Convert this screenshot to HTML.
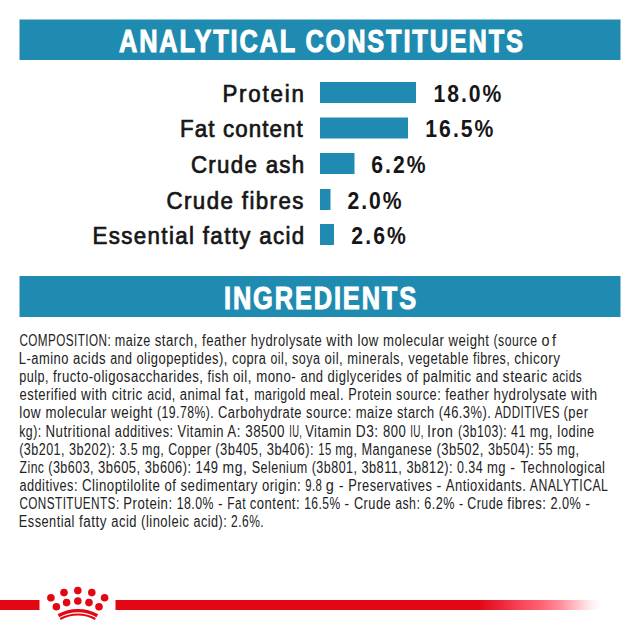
<!DOCTYPE html>
<html><head><meta charset="utf-8">
<style>
html,body{margin:0;padding:0;background:#fff;width:640px;height:640px;overflow:hidden}
svg{display:block}
text{font-family:"Liberation Sans",sans-serif}
.hd{font-weight:bold;fill:#fff;font-size:31px;stroke:#fff;stroke-width:1.0px}
.lb{fill:#161616;font-size:23.5px;stroke:#161616;stroke-width:0.7px}
.pc{fill:#161616;font-size:24.6px;font-weight:bold;stroke:#161616;stroke-width:0.0px}
.bd{fill:#222222;font-size:16px;stroke:#222222;stroke-width:0.0px;letter-spacing:0.6px}
</style></head>
<body>
<svg width="640" height="640" viewBox="0 0 640 640">
<rect x="19.5" y="19.5" width="601" height="40.5" fill="#1f8bb0"/>
<text class="hd" transform="translate(119.0 51.75) scale(0.82 1)" textLength="492.68" lengthAdjust="spacing">ANALYTICAL CONSTITUENTS</text>
<g fill="#1f8bb0">
<rect x="320" y="82" width="96" height="21"/>
<rect x="320" y="117.5" width="88" height="21"/>
<rect x="320" y="153" width="34.5" height="21"/>
<rect x="320" y="189" width="10.5" height="21"/>
<rect x="320" y="224" width="14" height="21"/>
</g>
<text class="lb" text-anchor="end" transform="translate(303.93 101.75) scale(0.95 1)" textLength="85.81" lengthAdjust="spacing">Protein</text>
<text class="lb" text-anchor="end" transform="translate(302.63 137.25) scale(0.95 1)" textLength="129.0" lengthAdjust="spacing">Fat content</text>
<text class="lb" text-anchor="end" transform="translate(304.18 172.75) scale(0.95 1)" textLength="119.2" lengthAdjust="spacing">Crude ash</text>
<text class="lb" text-anchor="end" transform="translate(303.41 208.75) scale(0.95 1)" textLength="144.14" lengthAdjust="spacing">Crude fibres</text>
<text class="lb" text-anchor="end" transform="translate(304.25 243.75) scale(0.95 1)" textLength="222.79" lengthAdjust="spacing">Essential fatty acid</text>
<text class="pc" transform="translate(433.6 101.75) scale(0.86 1)" textLength="78.87" lengthAdjust="spacing">18.0%</text>
<text class="pc" transform="translate(425.32 137.25) scale(0.86 1)" textLength="79.13" lengthAdjust="spacing">16.5%</text>
<text class="pc" transform="translate(371.19 172.75) scale(0.86 1)" textLength="63.16" lengthAdjust="spacing">6.2%</text>
<text class="pc" transform="translate(347.42 208.75) scale(0.86 1)" textLength="62.91" lengthAdjust="spacing">2.0%</text>
<text class="pc" transform="translate(351.31 243.75) scale(0.86 1)" textLength="63.4" lengthAdjust="spacing">2.6%</text>
<rect x="19.5" y="276" width="601" height="41" fill="#1f8bb0"/>
<text class="hd" transform="translate(224.0 308.6) scale(0.82 1)" textLength="234.39" lengthAdjust="spacing">INGREDIENTS</text>
<text class="bd" x="19.38" y="345.8" textLength="91.73" lengthAdjust="spacingAndGlyphs">COMPOSITION:</text>
<text class="bd" x="114.8" y="345.8" textLength="35.94" lengthAdjust="spacingAndGlyphs">maize</text>
<text class="bd" x="154.7" y="345.8" textLength="43.14" lengthAdjust="spacingAndGlyphs">starch,</text>
<text class="bd" x="202.0" y="345.8" textLength="44.65" lengthAdjust="spacingAndGlyphs">feather</text>
<text class="bd" x="250.8" y="345.8" textLength="71.44" lengthAdjust="spacingAndGlyphs">hydrolysate</text>
<text class="bd" x="326.3" y="345.8" textLength="26.91" lengthAdjust="spacingAndGlyphs">with</text>
<text class="bd" x="357.6" y="345.8" textLength="21.21" lengthAdjust="spacingAndGlyphs">low</text>
<text class="bd" x="382.95" y="345.8" textLength="61.51" lengthAdjust="spacingAndGlyphs">molecular</text>
<text class="bd" x="448.6" y="345.8" textLength="40.88" lengthAdjust="spacingAndGlyphs">weight</text>
<text class="bd" x="493.6" y="345.8" textLength="43.96" lengthAdjust="spacingAndGlyphs">(source</text>
<text class="bd" transform="translate(541.4 345.8) scale(0.8987 1)" textLength="16.99" lengthAdjust="spacing">of</text>
<text class="bd" x="18.86" y="363.94" textLength="50.1" lengthAdjust="spacingAndGlyphs">L-amino</text>
<text class="bd" x="73.0" y="363.94" textLength="33.08" lengthAdjust="spacingAndGlyphs">acids</text>
<text class="bd" x="110.2" y="363.94" textLength="22.27" lengthAdjust="spacingAndGlyphs">and</text>
<text class="bd" x="136.4" y="363.94" textLength="91.53" lengthAdjust="spacingAndGlyphs">oligopeptides),</text>
<text class="bd" x="232.0" y="363.94" textLength="34.44" lengthAdjust="spacingAndGlyphs">copra</text>
<text class="bd" x="270.45" y="363.94" textLength="17.66" lengthAdjust="spacingAndGlyphs">oil,</text>
<text class="bd" x="292.0" y="363.94" textLength="28.5" lengthAdjust="spacingAndGlyphs">soya</text>
<text class="bd" x="324.45" y="363.94" textLength="18.73" lengthAdjust="spacingAndGlyphs">oil,</text>
<text class="bd" x="347.3" y="363.94" textLength="56.85" lengthAdjust="spacingAndGlyphs">minerals,</text>
<text class="bd" x="408.2" y="363.94" textLength="60.67" lengthAdjust="spacingAndGlyphs">vegetable</text>
<text class="bd" x="472.95" y="363.94" textLength="37.32" lengthAdjust="spacingAndGlyphs">fibres,</text>
<text class="bd" x="514.2" y="363.94" textLength="46.28" lengthAdjust="spacingAndGlyphs">chicory</text>
<text class="bd" x="19.24" y="382.08" textLength="29.74" lengthAdjust="spacingAndGlyphs">pulp,</text>
<text class="bd" x="52.95" y="382.08" textLength="150.52" lengthAdjust="spacingAndGlyphs">fructo-oligosaccharides,</text>
<text class="bd" x="207.6" y="382.08" textLength="21.41" lengthAdjust="spacingAndGlyphs">fish</text>
<text class="bd" x="232.95" y="382.08" textLength="19.06" lengthAdjust="spacingAndGlyphs">oil,</text>
<text class="bd" x="256.2" y="382.08" textLength="40.08" lengthAdjust="spacingAndGlyphs">mono-</text>
<text class="bd" x="300.45" y="382.08" textLength="23.08" lengthAdjust="spacingAndGlyphs">and</text>
<text class="bd" x="327.6" y="382.08" textLength="74.7" lengthAdjust="spacingAndGlyphs">diglycerides</text>
<text class="bd" x="406.4" y="382.08" textLength="12.11" lengthAdjust="spacingAndGlyphs">of</text>
<text class="bd" x="422.7" y="382.08" textLength="48.93" lengthAdjust="spacingAndGlyphs">palmitic</text>
<text class="bd" x="475.8" y="382.08" textLength="22.78" lengthAdjust="spacingAndGlyphs">and</text>
<text class="bd" x="502.6" y="382.08" textLength="45.17" lengthAdjust="spacingAndGlyphs">stearic</text>
<text class="bd" x="552.2" y="382.08" textLength="29.93" lengthAdjust="spacingAndGlyphs">acids</text>
<text class="bd" x="19.46" y="400.22" textLength="57.53" lengthAdjust="spacingAndGlyphs">esterified</text>
<text class="bd" x="81.1" y="400.22" textLength="26.31" lengthAdjust="spacingAndGlyphs">with</text>
<text class="bd" x="111.7" y="400.22" textLength="31.2" lengthAdjust="spacingAndGlyphs">citric</text>
<text class="bd" x="147.2" y="400.22" textLength="28.59" lengthAdjust="spacingAndGlyphs">acid,</text>
<text class="bd" x="179.7" y="400.22" textLength="41.39" lengthAdjust="spacingAndGlyphs">animal</text>
<text class="bd" transform="translate(225.2 400.22) scale(0.9182 1)" textLength="26.24" lengthAdjust="spacing">fat,</text>
<text class="bd" x="254.2" y="400.22" textLength="51.67" lengthAdjust="spacingAndGlyphs">marigold</text>
<text class="bd" x="309.8" y="400.22" textLength="34.3" lengthAdjust="spacingAndGlyphs">meal.</text>
<text class="bd" x="348.2" y="400.22" textLength="43.88" lengthAdjust="spacingAndGlyphs">Protein</text>
<text class="bd" x="396.1" y="400.22" textLength="45.1" lengthAdjust="spacingAndGlyphs">source:</text>
<text class="bd" x="445.2" y="400.22" textLength="44.29" lengthAdjust="spacingAndGlyphs">feather</text>
<text class="bd" x="493.6" y="400.22" textLength="73.33" lengthAdjust="spacingAndGlyphs">hydrolysate</text>
<text class="bd" x="571.1" y="400.22" textLength="26.46" lengthAdjust="spacingAndGlyphs">with</text>
<text class="bd" x="19.18" y="418.36" textLength="21.99" lengthAdjust="spacingAndGlyphs">low</text>
<text class="bd" x="45.45" y="418.36" textLength="61.51" lengthAdjust="spacingAndGlyphs">molecular</text>
<text class="bd" x="111.1" y="418.36" textLength="41.69" lengthAdjust="spacingAndGlyphs">weight</text>
<text class="bd" x="157.0" y="418.36" textLength="57.11" lengthAdjust="spacingAndGlyphs">(19.78%).</text>
<text class="bd" x="217.95" y="418.36" textLength="84.09" lengthAdjust="spacingAndGlyphs">Carbohydrate</text>
<text class="bd" x="306.1" y="418.36" textLength="45.65" lengthAdjust="spacingAndGlyphs">source:</text>
<text class="bd" x="355.8" y="418.36" textLength="37.11" lengthAdjust="spacingAndGlyphs">maize</text>
<text class="bd" x="397.0" y="418.36" textLength="37.68" lengthAdjust="spacingAndGlyphs">starch</text>
<text class="bd" x="438.7" y="418.36" textLength="52.65" lengthAdjust="spacingAndGlyphs">(46.3%).</text>
<text class="bd" x="494.7" y="418.36" textLength="65.25" lengthAdjust="spacingAndGlyphs">ADDITIVES</text>
<text class="bd" x="563.6" y="418.36" textLength="24.86" lengthAdjust="spacingAndGlyphs">(per</text>
<text class="bd" x="19.24" y="436.5" textLength="22.34" lengthAdjust="spacingAndGlyphs">kg):</text>
<text class="bd" x="45.45" y="436.5" textLength="65.18" lengthAdjust="spacingAndGlyphs">Nutritional</text>
<text class="bd" x="114.8" y="436.5" textLength="58.78" lengthAdjust="spacingAndGlyphs">additives:</text>
<text class="bd" x="177.6" y="436.5" textLength="46.35" lengthAdjust="spacingAndGlyphs">Vitamin</text>
<text class="bd" x="227.3" y="436.5" textLength="13.69" lengthAdjust="spacingAndGlyphs">A:</text>
<text class="bd" x="245.2" y="436.5" textLength="39.79" lengthAdjust="spacingAndGlyphs">38500</text>
<text class="bd" x="289.2" y="436.5" textLength="13.05" lengthAdjust="spacingAndGlyphs">IU,</text>
<text class="bd" x="305.2" y="436.5" textLength="46.51" lengthAdjust="spacingAndGlyphs">Vitamin</text>
<text class="bd" x="355.8" y="436.5" textLength="22.85" lengthAdjust="spacingAndGlyphs">D3:</text>
<text class="bd" x="382.95" y="436.5" textLength="23.17" lengthAdjust="spacingAndGlyphs">800</text>
<text class="bd" x="410.2" y="436.5" textLength="13.7" lengthAdjust="spacingAndGlyphs">IU,</text>
<text class="bd" x="427.0" y="436.5" textLength="26.5" lengthAdjust="spacingAndGlyphs">Iron</text>
<text class="bd" x="457.95" y="436.5" textLength="49.3" lengthAdjust="spacingAndGlyphs">(3b103):</text>
<text class="bd" x="511.1" y="436.5" textLength="14.79" lengthAdjust="spacingAndGlyphs">41</text>
<text class="bd" x="529.8" y="436.5" textLength="23.12" lengthAdjust="spacingAndGlyphs">mg,</text>
<text class="bd" x="557.0" y="436.5" textLength="37.62" lengthAdjust="spacingAndGlyphs">Iodine</text>
<text class="bd" x="19.24" y="454.64" textLength="45.72" lengthAdjust="spacingAndGlyphs">(3b201,</text>
<text class="bd" x="68.9" y="454.64" textLength="46.59" lengthAdjust="spacingAndGlyphs">3b202):</text>
<text class="bd" x="119.5" y="454.64" textLength="18.62" lengthAdjust="spacingAndGlyphs">3.5</text>
<text class="bd" x="142.0" y="454.64" textLength="22.27" lengthAdjust="spacingAndGlyphs">mg,</text>
<text class="bd" x="168.2" y="454.64" textLength="43.13" lengthAdjust="spacingAndGlyphs">Copper</text>
<text class="bd" x="215.2" y="454.64" textLength="47.42" lengthAdjust="spacingAndGlyphs">(3b405,</text>
<text class="bd" x="266.7" y="454.64" textLength="47.42" lengthAdjust="spacingAndGlyphs">3b406):</text>
<text class="bd" x="318.2" y="454.64" textLength="13.45" lengthAdjust="spacingAndGlyphs">15</text>
<text class="bd" x="335.2" y="454.64" textLength="22.27" lengthAdjust="spacingAndGlyphs">mg,</text>
<text class="bd" x="361.4" y="454.64" textLength="70.99" lengthAdjust="spacingAndGlyphs">Manganese</text>
<text class="bd" x="436.4" y="454.64" textLength="47.47" lengthAdjust="spacingAndGlyphs">(3b502,</text>
<text class="bd" x="487.95" y="454.64" textLength="46.27" lengthAdjust="spacingAndGlyphs">3b504):</text>
<text class="bd" x="538.2" y="454.64" textLength="14.87" lengthAdjust="spacingAndGlyphs">55</text>
<text class="bd" x="557.0" y="454.64" textLength="22.43" lengthAdjust="spacingAndGlyphs">mg,</text>
<text class="bd" x="19.6" y="472.78" textLength="24.83" lengthAdjust="spacingAndGlyphs">Zinc</text>
<text class="bd" x="48.3" y="472.78" textLength="45.72" lengthAdjust="spacingAndGlyphs">(3b603,</text>
<text class="bd" x="97.95" y="472.78" textLength="42.77" lengthAdjust="spacingAndGlyphs">3b605,</text>
<text class="bd" x="144.8" y="472.78" textLength="46.64" lengthAdjust="spacingAndGlyphs">3b606):</text>
<text class="bd" x="195.45" y="472.78" textLength="23.08" lengthAdjust="spacingAndGlyphs">149</text>
<text class="bd" x="222.6" y="472.78" textLength="24.73" lengthAdjust="spacingAndGlyphs">mg,</text>
<text class="bd" x="251.7" y="472.78" textLength="56.06" lengthAdjust="spacingAndGlyphs">Selenium</text>
<text class="bd" x="311.7" y="472.78" textLength="45.76" lengthAdjust="spacingAndGlyphs">(3b801,</text>
<text class="bd" x="361.4" y="472.78" textLength="40.99" lengthAdjust="spacingAndGlyphs">3b811,</text>
<text class="bd" x="406.4" y="472.78" textLength="46.59" lengthAdjust="spacingAndGlyphs">3b812):</text>
<text class="bd" x="457.0" y="472.78" textLength="26.09" lengthAdjust="spacingAndGlyphs">0.34</text>
<text class="bd" x="487.0" y="472.78" textLength="19.1" lengthAdjust="spacingAndGlyphs">mg</text>
<text class="bd" transform="translate(510.2 472.78) scale(0.8957 1)" textLength="6.37" lengthAdjust="spacing">-</text>
<text class="bd" x="520.45" y="472.78" textLength="85.06" lengthAdjust="spacingAndGlyphs">Technological</text>
<text class="bd" x="19.46" y="490.92" textLength="58.52" lengthAdjust="spacingAndGlyphs">additives:</text>
<text class="bd" x="82.0" y="490.92" textLength="78.34" lengthAdjust="spacingAndGlyphs">Clinoptilolite</text>
<text class="bd" x="164.5" y="490.92" textLength="11.85" lengthAdjust="spacingAndGlyphs">of</text>
<text class="bd" x="180.45" y="490.92" textLength="77.4" lengthAdjust="spacingAndGlyphs">sedimentary</text>
<text class="bd" x="262.0" y="490.92" textLength="39.09" lengthAdjust="spacingAndGlyphs">origin:</text>
<text class="bd" x="305.2" y="490.92" textLength="17.04" lengthAdjust="spacingAndGlyphs">9.8</text>
<text class="bd" x="325.8" y="490.92" textLength="8.58" lengthAdjust="spacingAndGlyphs">g</text>
<text class="bd" x="338.9" y="490.92" textLength="5.04" lengthAdjust="spacingAndGlyphs">-</text>
<text class="bd" x="348.2" y="490.92" textLength="84.16" lengthAdjust="spacingAndGlyphs">Preservatives</text>
<text class="bd" transform="translate(436.4 490.92) scale(0.9026 1)" textLength="6.13" lengthAdjust="spacing">-</text>
<text class="bd" x="445.8" y="490.92" textLength="80.64" lengthAdjust="spacingAndGlyphs">Antioxidants.</text>
<text class="bd" x="529.8" y="490.92" textLength="78.55" lengthAdjust="spacingAndGlyphs">ANALYTICAL</text>
<text class="bd" x="19.38" y="509.06" textLength="100.22" lengthAdjust="spacingAndGlyphs">CONSTITUENTS:</text>
<text class="bd" x="123.3" y="509.06" textLength="49.27" lengthAdjust="spacingAndGlyphs">Protein:</text>
<text class="bd" x="176.7" y="509.06" textLength="37.36" lengthAdjust="spacingAndGlyphs">18.0%</text>
<text class="bd" x="217.95" y="509.06" textLength="5.06" lengthAdjust="spacingAndGlyphs">-</text>
<text class="bd" x="227.3" y="509.06" textLength="18.72" lengthAdjust="spacingAndGlyphs">Fat</text>
<text class="bd" x="249.8" y="509.06" textLength="50.3" lengthAdjust="spacingAndGlyphs">content:</text>
<text class="bd" x="304.2" y="509.06" textLength="36.5" lengthAdjust="spacingAndGlyphs">16.5%</text>
<text class="bd" x="344.5" y="509.06" textLength="5.09" lengthAdjust="spacingAndGlyphs">-</text>
<text class="bd" x="353.9" y="509.06" textLength="37.28" lengthAdjust="spacingAndGlyphs">Crude</text>
<text class="bd" x="395.2" y="509.06" textLength="25.13" lengthAdjust="spacingAndGlyphs">ash:</text>
<text class="bd" x="424.2" y="509.06" textLength="30.73" lengthAdjust="spacingAndGlyphs">6.2%</text>
<text class="bd" x="458.9" y="509.06" textLength="4.55" lengthAdjust="spacingAndGlyphs">-</text>
<text class="bd" x="467.3" y="509.06" textLength="36.1" lengthAdjust="spacingAndGlyphs">Crude</text>
<text class="bd" x="507.3" y="509.06" textLength="39.04" lengthAdjust="spacingAndGlyphs">fibres:</text>
<text class="bd" x="550.45" y="509.06" textLength="30.77" lengthAdjust="spacingAndGlyphs">2.0%</text>
<text class="bd" transform="translate(585.2 509.06) scale(0.8752 1)" textLength="8.68" lengthAdjust="spacing">-</text>
<text class="bd" x="18.87" y="527.2" textLength="56.04" lengthAdjust="spacingAndGlyphs">Essential</text>
<text class="bd" x="78.9" y="527.2" textLength="28.14" lengthAdjust="spacingAndGlyphs">fatty</text>
<text class="bd" x="111.3" y="527.2" textLength="25.73" lengthAdjust="spacingAndGlyphs">acid</text>
<text class="bd" x="141.1" y="527.2" textLength="48.42" lengthAdjust="spacingAndGlyphs">(linoleic</text>
<text class="bd" x="193.6" y="527.2" textLength="33.55" lengthAdjust="spacingAndGlyphs">acid):</text>
<text class="bd" x="231.1" y="527.2" textLength="32.98" lengthAdjust="spacingAndGlyphs">2.6%.</text>
<defs>
<linearGradient id="fade" x1="0" x2="1" y1="0" y2="0">
<stop offset="0" stop-color="#e30613"/>
<stop offset="0.18" stop-color="#ec2438"/>
<stop offset="0.34" stop-color="#f84458"/>
<stop offset="0.51" stop-color="#ff6070"/>
<stop offset="0.67" stop-color="#ff8c9a"/>
<stop offset="0.75" stop-color="#ffabb5"/>
<stop offset="0.84" stop-color="#ffcdd3"/>
<stop offset="0.92" stop-color="#ffecee"/>
<stop offset="1" stop-color="#ffffff"/>
</linearGradient>
</defs>
<rect x="0" y="600" width="39.5" height="10" fill="#e30613"/>
<rect x="115.5" y="600" width="363" height="10" fill="#e30613"/>
<rect x="478" y="600" width="122" height="10" fill="url(#fade)"/>
<g fill="#e30613">
<circle cx="50.9" cy="597.8" r="3.8"/>
<circle cx="64" cy="592.6" r="3.8"/>
<circle cx="77.8" cy="590.6" r="3.8"/>
<circle cx="91.8" cy="592.6" r="3.8"/>
<circle cx="104.6" cy="597.8" r="3.8"/>
<circle cx="56.4" cy="606.8" r="3.8"/>
<circle cx="66.6" cy="602.6" r="3.8"/>
<circle cx="77.8" cy="601" r="3.8"/>
<circle cx="89" cy="602.6" r="3.8"/>
<circle cx="99" cy="606.8" r="3.8"/>
</g>
<g fill="none" stroke="#e30613">
<path d="M58.5 615.8 A38.75 38.75 0 0 1 97.3 615.8" stroke-width="3.4"/>
<path d="M60.2 619 A36.7 36.7 0 0 1 95.4 619" stroke-width="2"/>
</g>
</svg>
</body></html>
